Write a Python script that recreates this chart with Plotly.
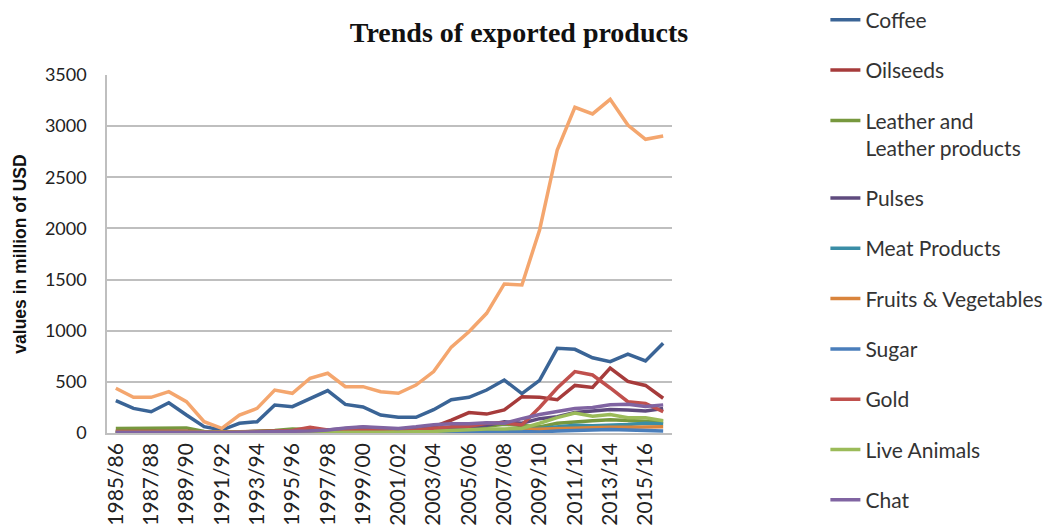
import plotly.graph_objects as go

years = ["1985/86", "1986/87", "1987/88", "1988/89", "1989/90", "1990/91", "1991/92", "1992/93",
         "1993/94", "1994/95", "1995/96", "1996/97", "1997/98", "1998/99", "1999/00", "2000/01",
         "2001/02", "2002/03", "2003/04", "2004/05", "2005/06", "2006/07", "2007/08", "2008/09",
         "2009/10", "2010/11", "2011/12", "2012/13", "2013/14", "2014/15", "2015/16", "2016/17"]
tick_labels = ["1985/86", "1987/88", "1989/90", "1991/92", "1993/94", "1995/96", "1997/98", "1999/00",
               "2001/02", "2003/04", "2005/06", "2007/08", "2009/10", "2011/12", "2013/14", "2015/16"]

coffee = [316, 241, 208, 296, 176, 62, 29, 95, 110, 274, 257, 339, 414, 280, 255, 176,
          153, 153, 228, 325, 349, 420, 518, 385, 515, 828, 818, 736, 697, 772, 704, 877]
oilseeds = [20, 15, 12, 15, 10, 5, 5, 10, 15, 20, 25, 30, 35, 35, 30, 25,
            30, 32, 60, 125, 200, 185, 225, 355, 350, 325, 465, 445, 635, 505, 465, 340]
leather = [45, 48, 52, 55, 50, 15, 5, 10, 15, 25, 40, 35, 30, 35, 30, 30,
           25, 30, 35, 45, 55, 65, 85, 75, 60, 95, 110, 120, 130, 125, 115, 108]
pulses = [5, 6, 8, 8, 6, 4, 3, 5, 8, 10, 12, 20, 30, 40, 55, 45,
          40, 30, 40, 45, 55, 75, 110, 95, 140, 160, 200, 215, 230, 225, 215, 240]
meat = [3, 3, 4, 4, 3, 2, 1, 2, 3, 4, 5, 6, 6, 7, 8, 8,
        10, 12, 15, 18, 20, 22, 25, 30, 45, 60, 75, 72, 75, 82, 95, 90]
fruits = [12, 12, 14, 14, 12, 6, 4, 6, 8, 10, 12, 14, 14, 12, 12, 10,
          10, 12, 15, 18, 20, 25, 30, 35, 40, 45, 45, 50, 55, 55, 60, 60]
sugar = [8, 10, 12, 10, 8, 4, 2, 4, 6, 8, 10, 12, 15, 12, 10, 8,
         6, 8, 10, 12, 15, 20, 18, 15, 10, 20, 25, 30, 35, 30, 25, 20]
gold = [15, 15, 18, 20, 18, 10, 8, 12, 15, 20, 25, 55, 30, 30, 28, 25,
        25, 30, 45, 60, 65, 95, 100, 78, 250, 440, 600, 567, 440, 306, 290, 208]
live_animals = [4, 4, 5, 5, 4, 2, 1, 2, 3, 4, 5, 6, 6, 7, 8, 8,
                10, 12, 15, 25, 35, 40, 40, 45, 95, 150, 195, 165, 180, 150, 148, 120]
chat = [6, 7, 8, 8, 6, 4, 3, 5, 8, 10, 15, 20, 30, 50, 60, 55,
        45, 60, 80, 90, 90, 100, 95, 140, 180, 210, 240, 250, 275, 280, 260, 275]
total = [437, 349, 349, 404, 306, 110, 46, 176, 241, 420, 388, 535, 584, 453, 453, 404,
         388, 469, 600, 840, 990, 1170, 1457, 1447, 1985, 2767, 3184, 3119, 3262, 3011, 2871, 2904]

series = [
    ("Coffee", coffee, "#3A6496"),
    ("Oilseeds", oilseeds, "#A63B3B"),
    ("Leather and<br>Leather products", leather, "#77983E"),
    ("Pulses", pulses, "#5F4B7E"),
    ("Meat Products", meat, "#3A8DA6"),
    ("Fruits & Vegetables", fruits, "#D9843C"),
    ("Sugar", sugar, "#4A7EBB"),
    ("Gold", gold, "#C0504D"),
    ("Live Animals", live_animals, "#9BBB59"),
    ("Chat", chat, "#8064A2"),
]

fig = go.Figure()
for i, (name, vals, col) in enumerate(series):
    fig.add_trace(go.Scatter(
        x=years, y=vals, name=name, mode="lines",
        line=dict(color=col, width=3.5),
        legendgroup=f"g{i}",
    ))
fig.add_trace(go.Scatter(
    x=years, y=total, name="Total", mode="lines",
    line=dict(color="#F4A66E", width=3.5), showlegend=False,
))

# page body has an 8px default margin, so the figure is 8px smaller
W, H = 1044, 521
fig.update_layout(
    width=W, height=H,
    margin=dict(l=99, r=380, t=67, b=96, autoexpand=False),
    paper_bgcolor="white", plot_bgcolor="white",
    title=dict(text="<b>Trends of exported products</b>",
               font=dict(family="Liberation Serif", size=28, color="#111111"),
               x=511 / W, xanchor="center", xref="container",
               y=1 - 24 / H, yanchor="middle", yref="container"),
    font=dict(family="Lato", color="#222222"),
    legend=dict(x=1.2715, xanchor="left", y=1.2105, yanchor="top",
                traceorder="grouped", tracegroupgap=20, valign="top",
                maxheight=1.0,
                font=dict(family="Lato", size=21, color="#333333"),
                bgcolor="rgba(0,0,0,0)"),
    showlegend=True,
)
fig.update_xaxes(
    type="category", range=[-0.5, 31.5],
    tickmode="array", tickvals=tick_labels, ticktext=tick_labels,
    tickangle=-90, tickfont=dict(family="Lato", size=21, color="#222222"),
    showline=True, linecolor="#BFBFBF", linewidth=1.5,
    showgrid=False, ticks="", automargin=False,
)
fig.update_yaxes(
    range=[0, 3500], dtick=500, tick0=0,
    tickfont=dict(family="Lato", size=18, color="#222222"),
    showgrid=True, gridcolor="#BFBFBF", gridwidth=1.5,
    showline=True, linecolor="#BFBFBF", linewidth=1.5,
    zeroline=False, ticks="", ticklabelstandoff=15,
    automargin=False,
    title=dict(text="<b>values in million of USD</b>",
               font=dict(family="Liberation Sans", size=17.5, color="#111111"),
               standoff=14),
)

fig.write_html("out.html")
